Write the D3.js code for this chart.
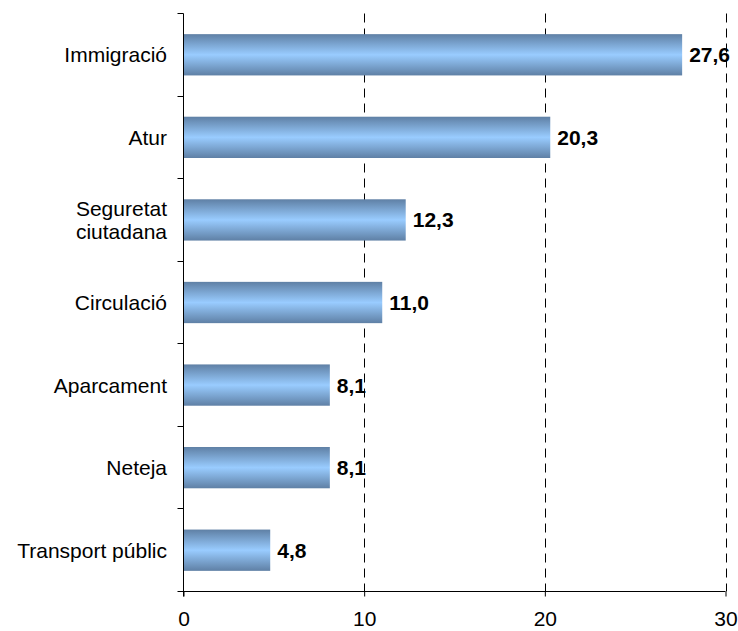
<!DOCTYPE html>
<html><head><meta charset="utf-8">
<script src="https://cdn.jsdelivr.net/npm/d3@7"></script>
<style>body{margin:0;background:#fff}svg{display:block}</style>
</head><body>
<svg id="c" width="738" height="631"></svg>
<script>
const categories = ["Immigració","Atur","Seguretat ciutadana","Circulació","Aparcament","Neteja","Transport públic"];
const categoryLines = [["Immigració"],["Atur"],["Seguretat","ciutadana"],["Circulació"],["Aparcament"],["Neteja"],["Transport públic"]];
const values = [27.6,20.3,12.3,11.0,8.1,8.1,4.8];
const xTicks = [0,10,20,30];

(function(){
const svg = d3.select("#c");
const FONT = "'Liberation Sans', Arial, sans-serif";
const mLeft = 183.5, mRight = 725.5, mTop = 13.5, mBottom = 591.5;
const x = d3.scaleLinear().domain([0,30]).range([mLeft,mRight]);
const y = d3.scaleBand().domain(categories).range([mTop,mBottom]).paddingInner(0.5).paddingOuter(0.25);
const yb = d3.scaleBand().domain(categories).range([mTop,mBottom]);

const defs = svg.append("defs");
const g = defs.append("linearGradient").attr("id","bg").attr("x1",0).attr("y1",0).attr("x2",0).attr("y2",1);
g.append("stop").attr("offset","0%").attr("stop-color","#5f80a5");
g.append("stop").attr("offset","50%").attr("stop-color","#99ccff");
g.append("stop").attr("offset","100%").attr("stop-color","#5f80a5");

// gridlines
svg.append("g").selectAll("line").data(xTicks.filter(d=>d>0)).join("line")
  .attr("x1",d=>Math.round(x(d))+0.5).attr("x2",d=>Math.round(x(d))+0.5)
  .attr("y1",mTop).attr("y2",mBottom)
  .attr("stroke","#000").attr("stroke-width",1).attr("stroke-dasharray","9,6");

// bars
svg.append("g").selectAll("rect").data(values).join("rect")
  .attr("x",x(0)).attr("y",(d,i)=>y(categories[i]))
  .attr("width",d=>x(d)-x(0)).attr("height",y.bandwidth())
  .attr("fill","url(#bg)");

// value labels
svg.append("g").selectAll("text").data(values).join("text")
  .attr("x",d=>x(d)+7).attr("y",(d,i)=>y(categories[i])+y.bandwidth()/2)
  .attr("dy","0.36em")
  .attr("font-family",FONT).attr("font-size",21).attr("font-weight","bold")
  .attr("fill","#000")
  .text(d=>d.toFixed(1).replace(".",","));

// y axis
const yAxis = svg.append("g");
yAxis.append("line").attr("x1",mLeft).attr("x2",mLeft).attr("y1",mTop).attr("y2",mBottom+5).attr("stroke","#000");
const boundaries = categories.map(c=>yb(c)).concat([mBottom]);
yAxis.selectAll("line.t").data(boundaries).join("line").attr("class","t")
  .attr("x1",mLeft-6).attr("x2",mLeft).attr("y1",d=>Math.round(d-0.5)+0.5).attr("y2",d=>Math.round(d-0.5)+0.5).attr("stroke","#000");
categories.forEach((c,i)=>{
  const lines = categoryLines[i];
  const cy = yb(c)+yb.bandwidth()/2;
  const lh = 23;
  const t = svg.append("text").attr("text-anchor","end")
    .attr("font-family",FONT).attr("font-size",21).attr("fill","#000");
  lines.forEach((l,j)=>{
    t.append("tspan").attr("x",167).attr("y",cy+(j-(lines.length-1)/2)*lh).attr("dy","0.36em").text(l);
  });
});

// x axis
const xAxis = svg.append("g").attr("transform",`translate(0,${mBottom})`)
  .call(d3.axisBottom(x).tickValues(xTicks).tickSize(5).tickPadding(15).tickFormat(d3.format("d")));
xAxis.select(".domain").attr("d",`M${mLeft},0H${mRight}`).attr("stroke","#000");
xAxis.selectAll(".tick line").attr("stroke","#000");
xAxis.selectAll("text").attr("font-family",FONT).attr("font-size",21).attr("fill","#000");
})();
</script>
</body></html>
